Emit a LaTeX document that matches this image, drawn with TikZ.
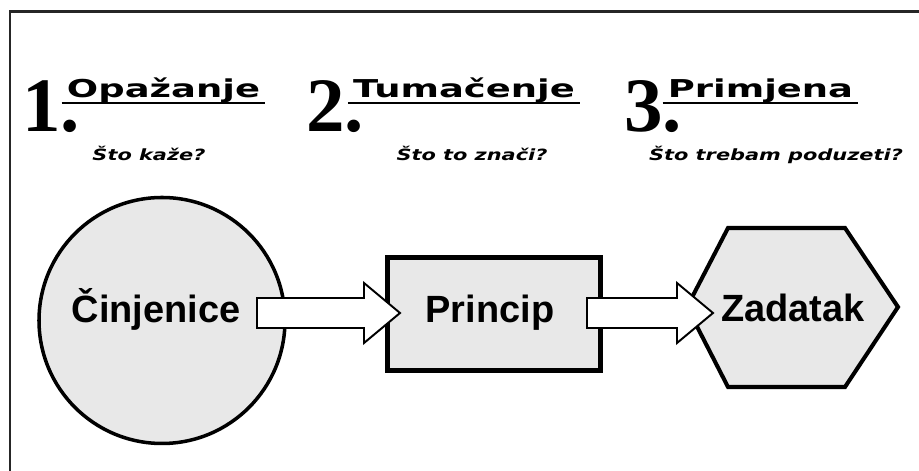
\documentclass[tikz,border=0pt]{standalone}
\usepackage{fontspec}
\setmainfont{Liberation Sans}
\newfontfamily\numfont{Liberation Serif}
\newfontfamily\headfont[FakeStretch=1.5]{DejaVu Sans}
\newfontfamily\askfont[FakeStretch=1.35]{DejaVu Sans}
\usetikzlibrary{calc}
\definecolor{shapegray}{RGB}{232,232,232}

\newcommand{\blockarrow}[2]{%
  \draw [barrow] ($(#1)+(0,0.3)$) -- ($(#2)+(-0.72,0.3)$) -- ($(#2)+(-0.72,0.6)$) -- (#2)
    -- ($(#2)+(-0.72,-0.6)$) -- ($(#2)+(-0.72,-0.3)$) -- ($(#1)+(0,-0.3)$) -- cycle;}

\begin{document}
\begin{tikzpicture}[
    numlabel/.style={font=\numfont\bfseries\fontsize{43.8}{44}\selectfont, inner sep=0pt, anchor=base west},
    headlabel/.style={font=\headfont\bfseries\fontsize{14}{15}\selectfont, inner sep=0.1cm, anchor=base},
    asklabel/.style={font=\askfont\bfseries\itshape\fontsize{8.8}{10}\selectfont, inner sep=0pt, anchor=base},
    uline/.style={line width=1.3pt},
    shapelabel/.style={font=\bfseries\fontsize{21.6}{22}\selectfont, inner sep=0pt, anchor=base},
    barrow/.style={draw, fill=white, line width=1.1pt, line join=miter}]
    \useasboundingbox (0,0) rectangle (18.38,9.42);
    % frame
    \draw [line width=1.7pt, black!85] (0.20,0) -- (0.20,9.18) -- (18.38,9.18);
    % steps
    \node [numlabel] (n1) at (0.44,6.78) {1.};
    \node [numlabel] (n2) at (6.12,6.78) {2.};
    \node [numlabel] (n3) at (12.48,6.78) {3.};
    \node [headlabel] (op) at (3.27,7.46) {Opažanje};
    \node [headlabel] (tu) at (9.28,7.46) {Tumačenje};
    \node [headlabel] (pr) at (15.21,7.46) {Primjena};
    \draw [uline] ([yshift=-0.1cm]op.base west) -- ([yshift=-0.1cm]op.base east);
    \draw [uline] ([yshift=-0.1cm]tu.base west) -- ([yshift=-0.1cm]tu.base east);
    \draw [uline] ([yshift=-0.1cm]pr.base west) -- ([yshift=-0.1cm]pr.base east);
    \node [asklabel] (q1) at (2.98,6.20) {Što kaže?};
    \node [asklabel] (q2) at (9.44,6.20) {Što to znači?};
    \node [asklabel] (q3) at (15.52,6.20) {Što trebam poduzeti?};
    % shapes
    \node [circle, draw, line width=2pt, fill=shapegray, minimum size=4.92cm] (cin) at (3.24,3.01) {};
    \node [rectangle, draw, line width=2.8pt, fill=shapegray, minimum width=4.26cm, minimum height=2.26cm] (prin) at (9.88,3.14) {};
    \draw [line width=2.3pt, fill=shapegray, line join=miter] (13.74,3.28) coordinate (hexL) -- (14.56,4.86) -- (16.90,4.86)
        -- (17.96,3.28) -- (16.90,1.68) -- (14.56,1.68) -- cycle;
    \node [shapelabel] (cinT) at (3.12,2.96) {Činjenice};
    \node [shapelabel] (prinT) at (9.80,2.96) {Princip};
    \node [shapelabel] (zadT) at (15.86,2.98) {Zadatak};
    % arrows
    \coordinate (a1s) at (5.14,3.16);
    \coordinate (a1t) at (8.00,3.16);
    \coordinate (a2s) at (11.74,3.16);
    \coordinate (a2t) at (14.26,3.16);
    \blockarrow{a1s}{a1t}
    \blockarrow{a2s}{a2t}
\end{tikzpicture}
\end{document}
